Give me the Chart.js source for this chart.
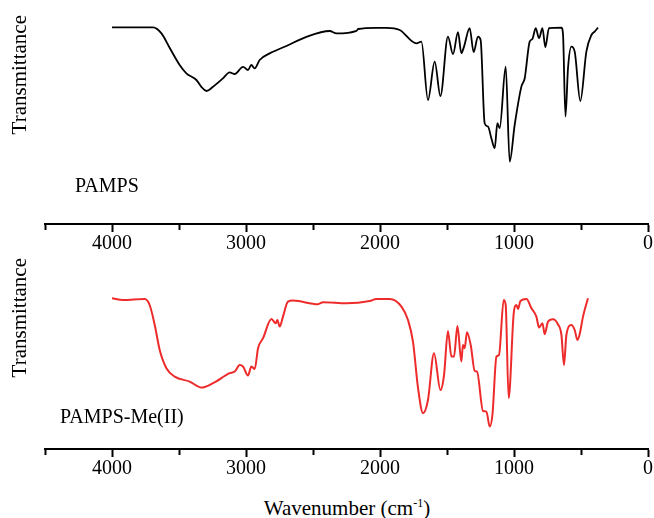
<!DOCTYPE html>
<html>
<head>
<meta charset="utf-8">
<script src="https://cdn.jsdelivr.net/npm/chart.js@4"></script>
<style>
  body { margin: 0; background: #fff; }
  #wrap { position: relative; width: 654px; height: 518px; overflow: hidden; font-family: "Liberation Serif", "Times New Roman", serif; color: #000; }
  canvas { position: absolute; left: 0; }
  #c1 { top: 0; }
  #c2 { top: 240px; }
  .lbl { position: absolute; font-size: 20px; line-height: 20px; white-space: nowrap; }
  #xtitle { position: absolute; left: 347px; top: 497px; transform: translateX(-50%); font-size: 21px; line-height: 22px; white-space: nowrap; }
  #xtitle sup { font-size: 12px; vertical-align: 8px; line-height: 0; }
</style>
</head>
<body>
<div id="wrap">
  <canvas id="c1" width="654" height="258"></canvas>
  <canvas id="c2" width="654" height="250"></canvas>
  <div class="lbl" style="left:75px; top:175px;">PAMPS</div>
  <div class="lbl" style="left:60px; top:406px;">PAMPS-Me(II)</div>
  <div id="xtitle">Wavenumber (cm<sup>-1</sup>)</div>
</div>
<script>
/* ---------------------------
    DATA
------------------------------ */
const majorTicks = [4000, 3000, 2000, 1000, 0];

// PAMPS (black)
const pampsWave = [4000, 3694, 3631, 3569, 3495, 3445, 3370, 3333, 3295, 3246, 3172, 3122, 3084, 3022, 2985, 2960, 2935, 2898, 2823, 2698,
    2549, 2375, 2325, 2176, 2163, 2027, 1952, 1853, 1728, 1691, 1642, 1592, 1549, 1493, 1455, 1418, 1393, 1373, 1331, 1301,
    1269, 1249, 1219, 1194, 1169, 1144, 1124, 1107, 1062, 1032, 995, 945, 920, 883, 863, 838, 813, 788, 766, 739,
    646, 634, 616, 597, 572, 547, 505, 460, 422, 398, 373];
const pampsTrans = [99.3, 99.3, 96.3, 89, 80.5, 76.3, 73, 69.6, 67.5, 69.6, 73.8, 76.8, 76, 79.6, 78, 80.5, 78.8, 83, 86.3, 90,
    94.6, 97.5, 96.3, 97.6, 98.5, 99.1, 99.1, 98, 91.3, 92.2, 63, 82.2, 65, 94.7, 85.9, 96.9, 86.4, 89.7, 98.9, 86.9,
    94.7, 93, 51.4, 49.7, 43.9, 38.9, 51.4, 48.9, 79.7, 32.2, 50.5, 69.7, 73.9, 92.2, 93.5, 98.9, 93.9, 98.9, 89.4, 98.9,
    99.2, 95.5, 54.7, 78.9, 89.7, 87.2, 62.5, 87.2, 95.5, 97.2, 99.2];

// PAMPS-Me(II) (red)
const meWave = [4000, 3918, 3756, 3719, 3681, 3644, 3594, 3532, 3420, 3333, 3246, 3122, 3084, 3047, 3022, 2985, 2960, 2935, 2910, 2873,
    2810, 2778, 2766, 2749, 2724, 2687, 2649, 2463, 2425, 2251, 2077, 2027, 1928, 1840, 1791, 1754, 1716, 1679, 1642, 1597,
    1549, 1522, 1493, 1467, 1448, 1422, 1393, 1381, 1368, 1351, 1323, 1293, 1276, 1231, 1206, 1181, 1161, 1131, 1112, 1077,
    1062, 1040, 1002, 982, 970, 952, 907, 870, 833, 813, 788, 771, 746, 709, 672, 646, 627, 609, 572, 547,
    527, 510, 485, 448];
const meTrans = [75.9, 75, 75.5, 72.5, 62.5, 50, 40.9, 36.7, 34.2, 31.2, 33.4, 38.4, 39.2, 42.5, 41.7, 37.2, 41.7, 40.5, 50.9, 55.9,
    65.5, 63.4, 65, 61.7, 66.7, 74.2, 74.7, 72.9, 73.9, 73.4, 74.5, 75.5, 75.5, 71.7, 65, 54.2, 30.9, 18.4, 25, 48.4,
    30, 37.5, 59.5, 46.7, 46.7, 62, 44.2, 52.5, 50.9, 58.9, 52.5, 39.5, 39.2, 19.5, 19.2, 11.7, 17.5, 46.7, 47.5, 75,
    72.5, 25.9, 68.4, 72.5, 70.5, 74.5, 75.5, 70.9, 66.7, 61.2, 63.4, 57.9, 64.2, 65.4, 62.9, 57.5, 42.5, 57.5, 62.5, 60,
    55, 57.9, 66.7, 75.9];

/* ---------------------------
    CHART BUILDER
------------------------------ */
const serif = "'Liberation Serif', 'Times New Roman', serif";

function makeSpectrum(id, wave, trans, color, lineW, yMin, yMax, padTop, padBottom) {
    const points = wave.map((w, i) => ({ x: w, y: trans[i] }));

    return new Chart(document.getElementById(id), {
        type: "line",
        data: {
            datasets: [{
                data: points,
                borderColor: color,
                borderWidth: lineW,
                pointRadius: 0,
                fill: false,
                cubicInterpolationMode: "monotone"
            }]
        },
        options: {
            responsive: false,
            animation: false,
            events: [],
            layout: { padding: { left: 0, right: 6, top: padTop, bottom: padBottom } },
            plugins: { legend: { display: false }, tooltip: { enabled: false } },
            scales: {
                x: {
                    type: "linear",
                    reverse: true,
                    min: 0,
                    max: 4500,
                    border: { display: true, color: "#000", width: 2 },
                    grid: {
                        drawOnChartArea: false,
                        drawTicks: true,
                        tickLength: 8,
                        tickWidth: 2,
                        tickColor: "#000",
                        // minor ticks drawn shorter
                        tickBorderDash: ctx => majorTicks.includes(ctx.tick.value) ? [] : [5, 40]
                    },
                    ticks: {
                        stepSize: 500,
                        autoSkip: false,
                        maxRotation: 0,
                        padding: 0,
                        color: "#000",
                        font: { family: serif, size: 20 },
                        callback: v => majorTicks.includes(v) ? String(v) : ""
                    },
                    afterFit: s => { s.height = 30; s.paddingLeft = 0; s.paddingRight = 0; }
                },
                y: {
                    min: yMin,
                    max: yMax,
                    border: { display: false },
                    grid: { display: false },
                    ticks: { display: false },
                    title: {
                        display: true,
                        text: "Transmittance",
                        align: "end",
                        color: "#000",
                        padding: { top: 8, bottom: 0 },
                        font: { family: serif, size: 21 }
                    },
                    afterFit: s => { s.width = 45; }
                }
            }
        }
    });
}

makeSpectrum("c1", pampsWave, pampsTrans, "#000000", 1.8, 1, 105.5, 15, 4);
makeSpectrum("c2", meWave, meTrans, "#ee2b2b", 2, 0.5, 96, 18, 11);
</script>
</body>
</html>
